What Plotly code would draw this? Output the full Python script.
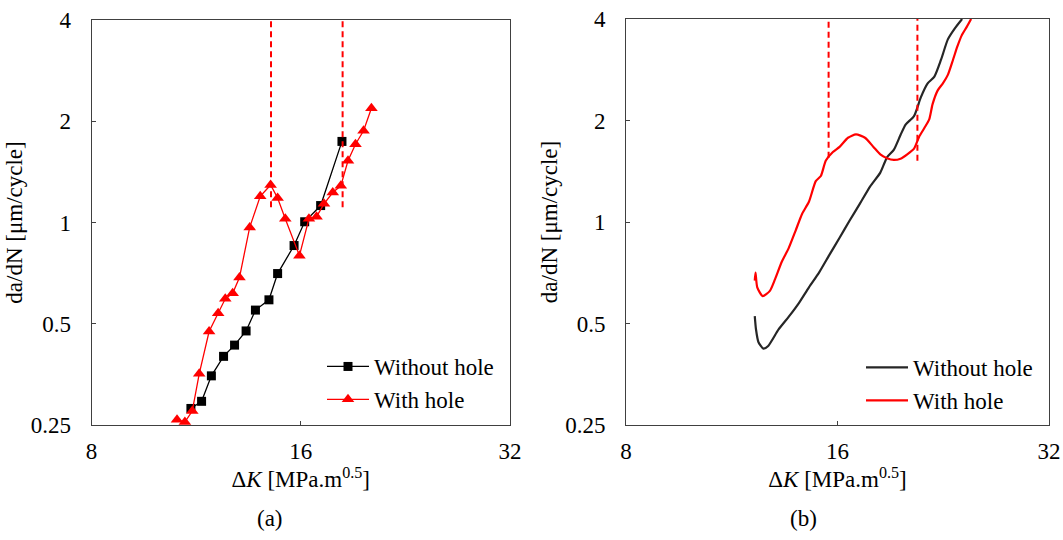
import plotly.graph_objects as go
import math

# ---------------- Data ----------------
# Panel (a): discrete measurements
a_without_dk = [11.12, 11.52, 11.90, 12.39, 12.85, 13.35, 13.77, 14.40, 14.82, 15.65, 16.21, 17.09, 18.34]
a_without_rate = [0.280, 0.294, 0.350, 0.400, 0.432, 0.476, 0.549, 0.589, 0.705, 0.854, 1.005, 1.123, 1.742]

a_with_dk = [10.62, 10.90, 11.17, 11.43, 11.81, 12.17, 12.46, 12.77, 13.06, 13.51, 13.99, 14.48,
             14.82, 15.20, 15.93, 16.44, 16.86, 17.28, 17.79, 18.27, 18.71, 19.18, 19.70, 20.22]
a_with_rate = [0.259, 0.255, 0.275, 0.355, 0.474, 0.537, 0.593, 0.616, 0.686, 0.967, 1.196, 1.293,
               1.183, 1.026, 0.797, 1.026, 1.041, 1.136, 1.228, 1.285, 1.526, 1.709, 1.874, 2.186]

a_marker_dk = [14.50, 18.38]
a_marker_low = [1.11, 1.11]

# Panel (b): continuous curves
b_without_dk = [12.20, 12.25, 12.35, 12.55, 12.75, 13.19, 13.64, 14.09, 14.57, 15.06, 15.58, 16.11,
                16.65, 17.22, 17.81, 18.41, 18.82, 19.24, 19.67, 20.00, 20.56, 21.03, 21.50, 21.98,
                22.47, 22.97, 23.49, 24.07]
b_without_rate = [0.526, 0.480, 0.440, 0.421, 0.429, 0.480, 0.524, 0.574, 0.640, 0.708, 0.799, 0.898,
                  1.010, 1.134, 1.276, 1.401, 1.555, 1.636, 1.812, 1.945, 2.061, 2.346, 2.577, 2.698,
                  3.034, 3.480, 3.747, 4.000]

b_with_dk = [12.20, 12.23, 12.30, 12.52, 12.82, 13.04, 13.33, 13.64, 13.94, 14.25, 14.57, 14.90,
             15.15, 15.40, 15.76, 16.11, 16.56, 17.00, 17.51, 18.00, 18.41, 18.82, 19.24, 19.67,
             20.11, 20.56, 20.91, 21.26, 21.61, 21.85, 22.22, 22.60, 22.97, 23.37, 23.70, 24.03,
             24.44, 24.79]
b_with_rate = [0.670, 0.708, 0.640, 0.603, 0.625, 0.677, 0.762, 0.838, 0.940, 1.058, 1.148, 1.322,
               1.369, 1.521, 1.612, 1.670, 1.778, 1.819, 1.778, 1.670, 1.587, 1.546, 1.528, 1.541,
               1.587, 1.650, 1.791, 1.897, 2.014, 2.236, 2.457, 2.577, 2.731, 3.034, 3.316, 3.571,
               3.790, 4.000]

b_marker_dk = [15.54, 20.79]
b_marker_low = [1.55, 1.52]

x_ticks = [8, 16, 32]
y_ticks = [0.25, 0.5, 1, 2, 4]
y_ticktext = ["0.25", "0.5", "1", "2", "4"]
y_top = 4

RED = "#FF0000"
FONT = "Liberation Serif, Times New Roman, serif"
FS = 23

fig = go.Figure()

# Panel (a)
fig.add_trace(go.Scatter(x=a_without_dk, y=a_without_rate, mode="lines+markers", name="Without hole",
                         line=dict(color="#000000", width=1.3),
                         marker=dict(symbol="square", size=9, color="#000000"),
                         cliponaxis=False, xaxis="x", yaxis="y", legend="legend"))
fig.add_trace(go.Scatter(x=a_with_dk, y=a_with_rate, mode="lines+markers", name="With hole",
                         line=dict(color=RED, width=1.3),
                         marker=dict(symbol="triangle-up", size=11, color=RED),
                         cliponaxis=False, xaxis="x", yaxis="y", legend="legend"))
for xv, lo in zip(a_marker_dk, a_marker_low):
    fig.add_trace(go.Scatter(x=[xv, xv], y=[lo, y_top], mode="lines", showlegend=False,
                             line=dict(color=RED, width=2, dash="6px,4px"),
                             xaxis="x", yaxis="y", hoverinfo="skip"))

# Panel (b)
fig.add_trace(go.Scatter(x=b_without_dk, y=b_without_rate, mode="lines", name="Without hole",
                         line=dict(color="#262626", width=2.2, shape="spline", smoothing=0.6),
                         xaxis="x2", yaxis="y2", legend="legend2"))
fig.add_trace(go.Scatter(x=b_with_dk, y=b_with_rate, mode="lines", name="With hole",
                         line=dict(color=RED, width=2.2, shape="spline", smoothing=0.6),
                         xaxis="x2", yaxis="y2", legend="legend2"))
for xv, lo in zip(b_marker_dk, b_marker_low):
    fig.add_trace(go.Scatter(x=[xv, xv], y=[lo, y_top], mode="lines", showlegend=False,
                             line=dict(color=RED, width=2, dash="6px,4px"),
                             xaxis="x2", yaxis="y2", hoverinfo="skip"))

W, H = 1063, 540
def fx(px):
    return px / W
def fy(py):
    return (H - py) / H

axis_common = dict(type="log", showgrid=False, zeroline=False, showline=True, mirror=True,
                   linecolor="#404040", linewidth=1, automargin=False,
                   ticks="inside", ticklen=4, tickcolor="#404040", ticklabeloverflow="allow",
                   tickfont=dict(family=FONT, size=FS, color="#000000"))

xcommon = dict(axis_common, range=[math.log10(8), math.log10(32)], tickvals=x_ticks,
               ticktext=[str(t) for t in x_ticks], ticklabelstandoff=5,
               title=dict(text="Δ<i>K</i> [MPa.m<sup>0.5</sup>]", font=dict(family=FONT, size=FS, color="#000000"),
                          standoff=3))
ycommon = dict(axis_common, range=[math.log10(0.25), math.log10(4)], tickvals=y_ticks,
               ticktext=y_ticktext, ticklabelstandoff=15,
               title=dict(text="da/dN [μm/cycle]", font=dict(family=FONT, size=FS, color="#000000"),
                          standoff=1))

legend_common = dict(font=dict(family=FONT, size=FS, color="#000000"), bgcolor="rgba(0,0,0,0)",
                     borderwidth=0, xanchor="left", yanchor="top", tracegroupgap=0, itemwidth=42)

fig.update_layout(
    width=W, height=H,
    margin=dict(l=0, r=0, t=0, b=0, autoexpand=False),
    paper_bgcolor="white", plot_bgcolor="white",
    font=dict(family=FONT, color="#000000"),
    xaxis=dict(xcommon, domain=[fx(91.5), fx(510)], anchor="y"),
    yaxis=dict(ycommon, domain=[fy(425), fy(20)], anchor="x"),
    xaxis2=dict(xcommon, domain=[fx(626), fx(1049)], anchor="y2"),
    yaxis2=dict(ycommon, domain=[fy(425), fy(19)], anchor="x2"),
    legend=dict(legend_common, x=fx(322), y=fy(345)),
    legend2=dict(legend_common, x=fx(861), y=fy(346)),
    annotations=[
        dict(text="(a)", x=fx(270), y=fy(518), xref="paper", yref="paper", showarrow=False,
             xanchor="center", yanchor="middle",
             font=dict(family=FONT, size=FS, color="#000000")),
        dict(text="(b)", x=fx(803), y=fy(518), xref="paper", yref="paper", showarrow=False,
             xanchor="center", yanchor="middle",
             font=dict(family=FONT, size=FS, color="#000000")),
    ],
)

fig.write_html("out.html", config={"displayModeBar": False},
               post_script="document.body.style.margin='0';document.body.style.overflow='hidden';")
